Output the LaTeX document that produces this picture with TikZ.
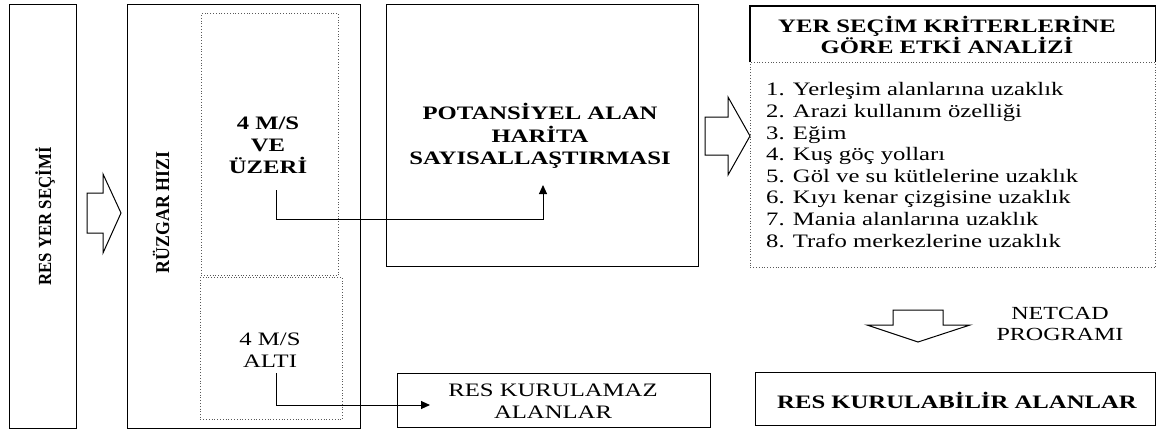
\documentclass[tikz,border=0pt]{standalone}
\usepackage{fontspec}
\usepackage{graphicx}
\setmainfont[FakeStretch=1.3]{Liberation Serif}
\newfontfamily\rotfont{Liberation Serif}
\usetikzlibrary{arrows.meta}
\tikzset{
  solidbox/.style={draw, line width=1.2pt, inner sep=0pt, anchor=north west},
  dotbox/.style={draw=black!65, dotted, line width=0.8pt, inner sep=0pt, anchor=north west},
  plain/.style={inner sep=0pt, align=center, font=\fontsize{19}{21.5}\selectfont},
  conn/.style={line width=1pt, -{Triangle[length=9pt,width=8pt]}},
  hollow/.style={draw, line width=1pt, fill=white},
}
\begin{document}
\begin{tikzpicture}[x=1pt,y=-1pt]
\useasboundingbox (0,0) rectangle (1156,432);
% boxes
\node[solidbox, minimum width=67pt, minimum height=424pt] (sel) at (9,4) {};
\node[solidbox, minimum width=233pt, minimum height=424pt] (ruz) at (127,4) {};
\node[dotbox, minimum width=137pt, minimum height=262pt] (up) at (201,13) {};
\node[dotbox, minimum width=142pt, minimum height=142pt] (low) at (200,277) {};
\node[solidbox, minimum width=312pt, minimum height=262pt] (pot) at (386,4) {};
\node[inner sep=0pt, anchor=north west, minimum width=405pt, minimum height=56pt] (hdr) at (750,6) {};
\node[dotbox, minimum width=405pt, minimum height=205pt] (lst) at (750,62) {};
\draw[line width=1.2pt] (hdr.south west) -- (hdr.north west) -- (hdr.north east) -- (hdr.south east);
\node[solidbox, minimum width=313pt, minimum height=54pt] (kmaz) at (397,373) {};
\node[solidbox, minimum width=400pt, minimum height=53pt] (kbil) at (755,372) {};
% texts
\node[plain, rotate=90] (tsel) at (45,216.5) {\fontsize{16.8}{20}\selectfont\rotfont\bfseries\scalebox{1}[1.1]{RES YER SEÇİMİ}};
\node[plain, rotate=90] (truz) at (161,212.5) {\fontsize{17.8}{20}\selectfont\rotfont\bfseries\scalebox{1}[1.1]{RÜZGAR HIZI}};
\node[plain, font=\fontsize{19}{22}\selectfont\bfseries] (tup) at (268,145) {4 M/S\\VE\\ÜZERİ};
\node[plain] (tlow) at (270,350) {4 M/S\\ALTI};
\node[plain, font=\fontsize{19}{22.5}\selectfont\bfseries] (tpot) at (540,136) {POTANSİYEL ALAN\\HARİTA\\SAYISALLAŞTIRMASI};
\node[plain, font=\fontsize{19}{20.5}\selectfont\bfseries] (thdr) at (947,35) {YER SEÇİM KRİTERLERİNE\\GÖRE ETKİ ANALİZİ};
\node[plain, align=left, anchor=west, font=\fontsize{19}{21.6}\selectfont] (tlst) at (766,165) {1. Yerleşim alanlarına uzaklık\\2. Arazi kullanım özelliği\\3. Eğim\\4. Kuş göç yolları\\5. Göl ve su kütlelerine uzaklık\\6. Kıyı kenar çizgisine uzaklık\\7. Mania alanlarına uzaklık\\8. Trafo merkezlerine uzaklık};
\node[plain, font=\fontsize{18.5}{20.5}\selectfont] (tnet) at (1060,324) {NETCAD\\PROGRAMI};
\node[plain, font=\fontsize{19}{22}\selectfont] (tmaz) at (553,401) {RES KURULAMAZ\\ALANLAR};
\node[plain, font=\fontsize{19}{21.5}\selectfont\bfseries] (tbil) at (957,400) {RES KURULABİLİR ALANLAR};
% hollow arrows
\draw[hollow] (87,193) -- (103,193) -- (103,174) -- (121,213) -- (103,253) -- (103,233) -- (87,233) -- cycle;
\draw[hollow] (705,117) -- (728,117) -- (728,97) -- (750,136) -- (728,175) -- (728,155) -- (705,155) -- cycle;
\draw[hollow] (893,310) -- (943,310) -- (943,325) -- (970,325) -- (918,342) -- (867,325) -- (893,325) -- cycle;
% connectors
\coordinate (a1) at (276,190);
\coordinate (a2) at (543,185);
\coordinate (a3) at (276,373);
\coordinate (a4) at (430,405);
\draw[conn] (a1) |- (a2 |- 0,219) -- (a2);
\draw[conn] (a3) |- (a4);
\end{tikzpicture}
\end{document}
